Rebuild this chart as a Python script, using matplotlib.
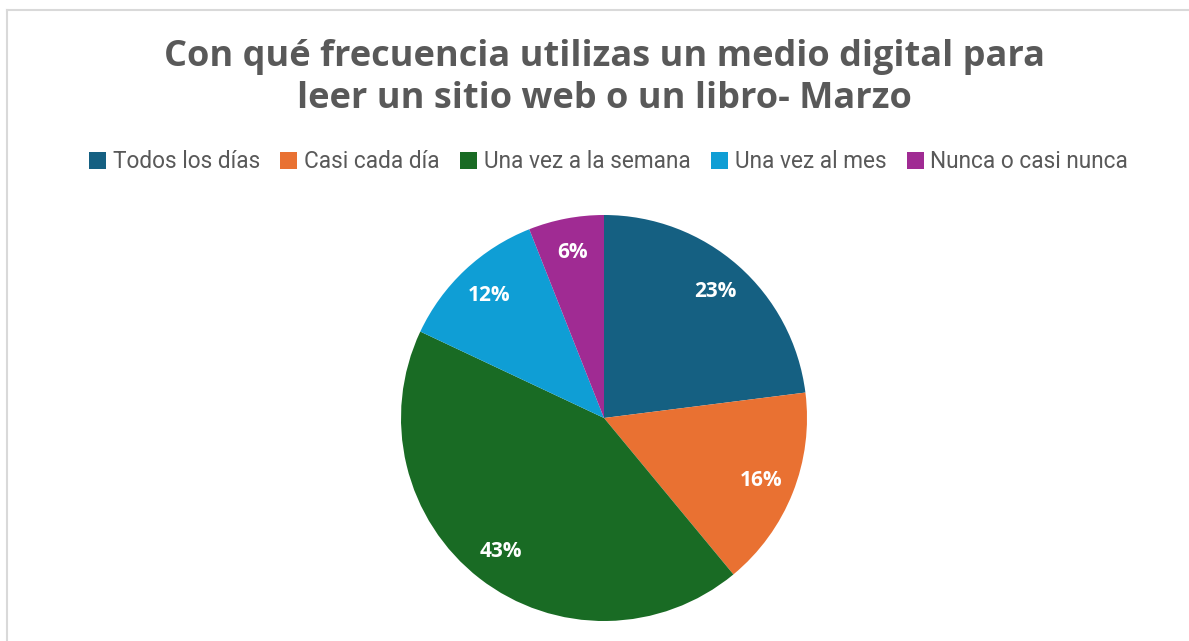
import matplotlib
matplotlib.use("Agg")
import matplotlib.pyplot as plt
from matplotlib.lines import Line2D
from matplotlib.patches import Patch

categorias = ["Todos los días", "Casi cada día", "Una vez a la semana",
              "Una vez al mes", "Nunca o casi nunca"]
porcentajes = [23, 16, 43, 12, 6]
colores = ["#156082", "#E97132", "#196B24", "#0F9ED5", "#A02B93"]
titulo = "Con qué frecuencia utilizas un medio digital para\nleer un sitio web o un libro- Marzo"

W, H = 1189, 641
fig = plt.figure(figsize=(W / 100, H / 100), dpi=100)

# marco del gráfico (cortado a la derecha y abajo)
fig.add_artist(Line2D([6.5 / W, 1.01], [1 - 9.5 / H, 1 - 9.5 / H], transform=fig.transFigure,
                      color="#D9D9D9", lw=1.5))
fig.add_artist(Line2D([6.5 / W, 6.5 / W], [1 - 9.5 / H, -0.01], transform=fig.transFigure,
                      color="#D9D9D9", lw=1.5))

cx, cy, r = 604, 418, 203
ax = fig.add_axes([(cx - r) / W, (H - cy - r) / H, 2 * r / W, 2 * r / H])
ax.pie(porcentajes, colors=colores, startangle=90, counterclock=False,
       autopct="%1.0f%%", pctdistance=0.83,
       textprops=dict(color="white", fontsize=15, fontweight="bold", family="Open Sans"))
ax.set_xlim(-1, 1)
ax.set_ylim(-1, 1)
ax.set_aspect("equal")
ax.axis("off")

fig.text(0.508, 1 - 78 / H, titulo, ha="center", va="center", fontsize=26,
         fontweight="bold", color="#595959", family="Open Sans", linespacing=1.22)

handles = [Patch(facecolor=c, edgecolor="none") for c in colores]
fig.legend(handles, categorias, loc="center", bbox_to_anchor=(608.5 / W, 1 - 162 / H),
           ncol=5, frameon=False, handlelength=0.75, handleheight=0.75,
           handletextpad=0.3, columnspacing=0.9,
           prop=dict(family="Roboto", size=16.3), labelcolor="#595959")

fig.savefig("out.png", dpi=100)
